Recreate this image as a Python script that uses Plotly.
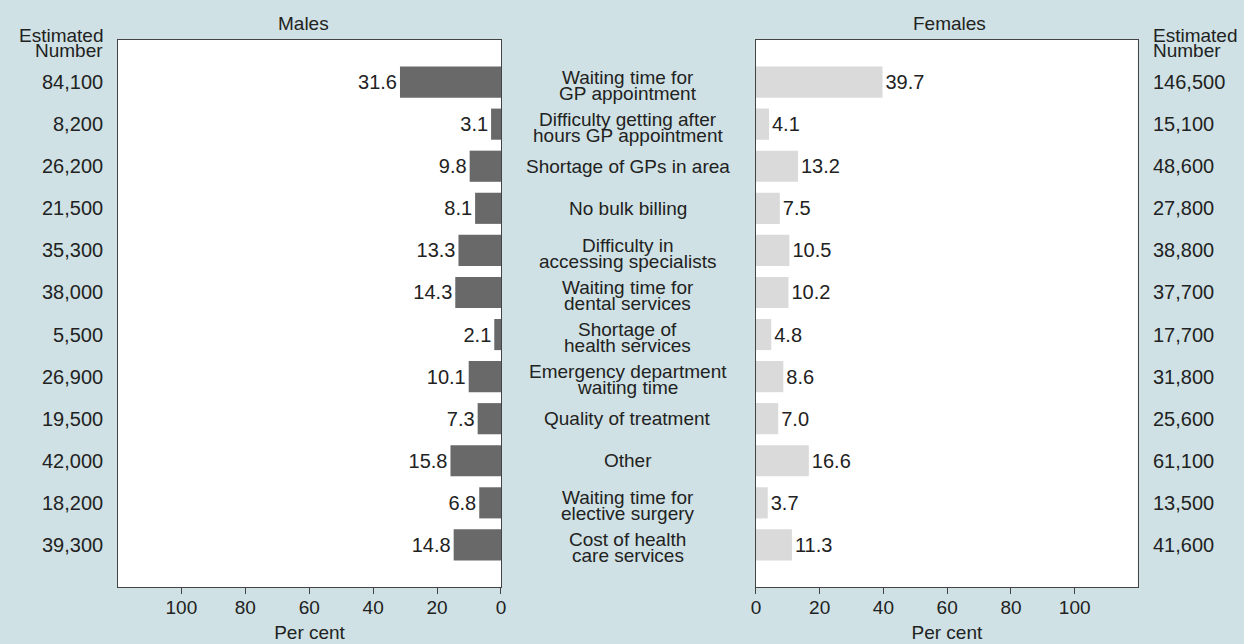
import plotly.graph_objects as go

categories = [
    "Waiting time for<br>GP appointment",
    "Difficulty getting after<br>hours GP appointment",
    "Shortage of GPs in area",
    "No bulk billing",
    "Difficulty in<br>accessing specialists",
    "Waiting time for<br>dental services",
    "Shortage of<br>health services",
    "Emergency department<br>waiting time",
    "Quality of treatment",
    "Other",
    "Waiting time for<br>elective surgery",
    "Cost of health<br>care services",
]
males_pct = [31.6, 3.1, 9.8, 8.1, 13.3, 14.3, 2.1, 10.1, 7.3, 15.8, 6.8, 14.8]
females_pct = [39.7, 4.1, 13.2, 7.5, 10.5, 10.2, 4.8, 8.6, 7.0, 16.6, 3.7, 11.3]
males_num = ["84,100", "8,200", "26,200", "21,500", "35,300", "38,000", "5,500",
             "26,900", "19,500", "42,000", "18,200", "39,300"]
females_num = ["146,500", "15,100", "48,600", "27,800", "38,800", "37,700", "17,700",
               "31,800", "25,600", "61,100", "13,500", "41,600"]
tick_vals = [0, 20, 40, 60, 80, 100]

W, H = 1244, 644
BG = "#cfe1e4"
TXT = "#222222"
FONT = "Liberation Sans, Arial, sans-serif"
FS = 19
FN = 20

rows = list(range(len(categories)))

fig = go.Figure()
fig.add_trace(go.Bar(
    x=males_pct, y=rows, orientation="h", xaxis="x", yaxis="y",
    marker=dict(color="#696969", line=dict(width=0)), width=0.74,
    text=[f"{v:.1f}" for v in males_pct], textposition="outside",
    textfont=dict(size=FN, color=TXT, family=FONT), cliponaxis=False,
    showlegend=False, hoverinfo="skip"))
fig.add_trace(go.Bar(
    x=females_pct, y=rows, orientation="h", xaxis="x2", yaxis="y2",
    marker=dict(color="#dadada", line=dict(width=0)), width=0.74,
    text=[f"{v:.1f}" for v in females_pct], textposition="outside",
    textfont=dict(size=FN, color=TXT, family=FONT), cliponaxis=False,
    showlegend=False, hoverinfo="skip"))

xl = [114 / W, 500 / W]
xr = [757 / W, 1142 / W]
yd = [1 - 587 / H, 1 - 40 / H]

axis_common = dict(
    showgrid=False, zeroline=False, showline=True, linecolor="#444444", linewidth=1,
    mirror=True, ticks="outside", ticklen=6, tickcolor="#444444",
    tickvals=tick_vals, tickfont=dict(size=FS, color=TXT, family=FONT),
    ticklabelstandoff=-3,
    title=dict(text="Per cent", font=dict(size=FS, color=TXT, family=FONT), standoff=8),
    fixedrange=True)
yaxis_common = dict(range=[12, -1], showticklabels=False, showgrid=False, zeroline=False,
                    showline=True, linecolor="#444444", mirror=True, ticks="", fixedrange=True)

fig.update_layout(
    width=W, height=H, paper_bgcolor=BG, plot_bgcolor="white",
    margin=dict(l=0, r=0, t=0, b=0),
    font=dict(family=FONT, color=TXT, size=FS),
    xaxis=dict(domain=xl, range=[119.8, 0], anchor="y", **axis_common),
    yaxis=dict(domain=yd, anchor="x", **yaxis_common),
    xaxis2=dict(domain=xr, range=[0, 119.8], anchor="y2", **axis_common),
    yaxis2=dict(domain=yd, anchor="x2", **yaxis_common),
    bargap=0.26,
)

ann = []
def add(text, x, y, xanchor, yref="y", yshift=0, size=FS):
    ann.append(dict(text=text, x=x, y=y, xref="paper", yref=yref, xanchor=xanchor,
                    yanchor="middle", showarrow=False, yshift=yshift,
                    font=dict(size=size, color=TXT, family=FONT)))

cx = 628 / W
for i, cat in enumerate(categories):
    parts = cat.split("<br>")
    if len(parts) == 1:
        add(parts[0], cx, i, "center")
    else:
        add(parts[0], cx, i, "center", yshift=5)
        add(parts[1], cx, i, "center", yshift=-11)
    add(males_num[i], 101 / W, i, "right", size=FN)
    add(females_num[i], 1155 / W, i, "left", size=FN)

# headers
add("Estimated", 101 / W, 1 - 35 / H, "right", yref="paper")
add("Number", 101 / W, 1 - 51 / H, "right", yref="paper")
add("Estimated", 1155 / W, 1 - 35 / H, "left", yref="paper")
add("Number", 1155 / W, 1 - 51 / H, "left", yref="paper")
add("Males", 301 / W, 1 - 24 / H, "center", yref="paper")
add("Females", 952 / W, 1 - 24 / H, "center", yref="paper")

fig.update_layout(annotations=ann)
fig.write_html("out.html", config={"displayModeBar": False},
               post_script="document.body.style.margin='0px';document.body.style.overflow='hidden';")
